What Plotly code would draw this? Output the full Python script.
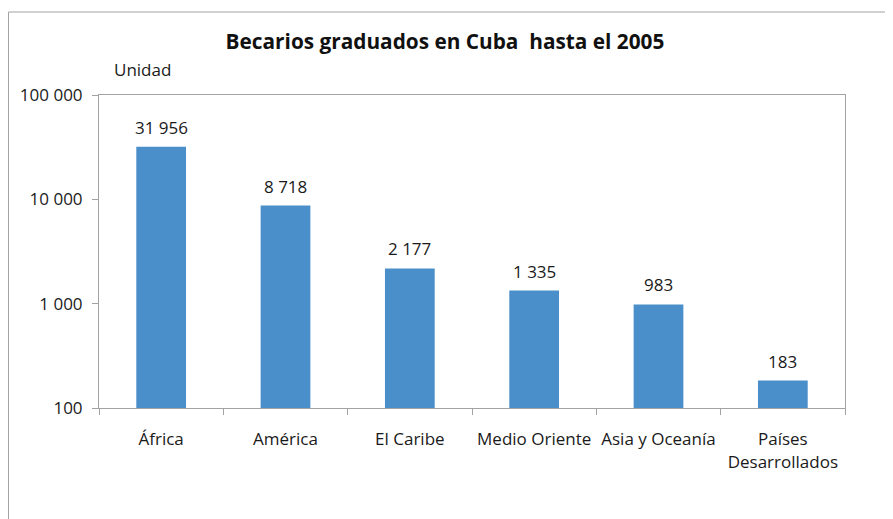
import math
import plotly.graph_objects as go

categories = ["África", "América", "El Caribe", "Medio Oriente", "Asia y Oceanía", "Países<br>Desarrollados"]
values = [31956, 8718, 2177, 1335, 983, 183]
y_ticks = [100, 1000, 10000, 100000]
title_text = "Becarios graduados en Cuba  hasta el 2005"
unit_text = "Unidad"

FONT = "Open Sans"
BAR_COLOR = "#4a8fc9"
LINE = "#a3a3a3"
TXT = "#1a1a1a"

# page is drawn with an 8px body margin; figure sized to fit the window
W, H = 885, 511
L, R, T, B = 91, 48, 87, 111
PW, PH = W - L - R, H - T - B


def fmt(v):
    return f"{v:,}".replace(",", " ")


def px_x(px):  # page x -> paper x
    return (px - 8 - L) / PW


def px_y(py):  # page y -> paper y
    return (H - B - (py - 8)) / PH


fig = go.Figure()
fig.add_trace(go.Bar(
    x=categories, y=values,
    marker=dict(color=BAR_COLOR, line=dict(width=0)),
    width=0.4,
    hoverinfo="skip",
))

for c, v in zip(categories, values):
    fig.add_annotation(
        x=c, y=math.log10(v), xref="x", yref="y",
        text=fmt(v), showarrow=False, yanchor="bottom", yshift=6,
        font=dict(family=FONT, size=17, color=TXT),
    )

fig.add_annotation(
    x=px_x(142), y=px_y(70), xref="paper", yref="paper", text=unit_text,
    showarrow=False, xanchor="center", yanchor="middle",
    font=dict(family=FONT, size=17, color=TXT),
)

fig.update_layout(
    width=W, height=H,
    margin=dict(l=L, r=R, t=T, b=B),
    paper_bgcolor="white", plot_bgcolor="white",
    showlegend=False,
    separators=". ",
    title=dict(text=title_text, x=(445 - 8) / W, xanchor="center",
               y=1 - (42 - 8) / H, yanchor="middle",
               font=dict(family=FONT, size=20.8, color="#111111", weight="bold")),
    font=dict(family=FONT, size=17, color=TXT),
)

fig.update_xaxes(
    range=[-0.5, 5.5], showline=True, linecolor=LINE, linewidth=1, mirror=True,
    ticks="outside", tickson="boundaries", ticklen=6, tickcolor=LINE,
    showgrid=False, ticklabelstandoff=16,
    tickfont=dict(family=FONT, size=17, color=TXT),
)
fig.update_yaxes(
    type="log", range=[2, 5], showline=True, linecolor=LINE, linewidth=1, mirror=True,
    ticks="outside", ticklen=6, tickcolor=LINE, tickvals=y_ticks, tickformat=",d",
    showgrid=False, zeroline=False, ticklabelstandoff=6,
    tickfont=dict(family=FONT, size=17, color=TXT),
)

# outer chart frame (top and left edges visible)
fig.add_shape(type="rect", xref="paper", yref="paper",
              x0=(0.5 - L) / PW, x1=1.3, y0=-0.6, y1=px_y(12),
              line=dict(color=LINE, width=1), fillcolor="rgba(0,0,0,0)", layer="below")

fig.write_html("out.html")
